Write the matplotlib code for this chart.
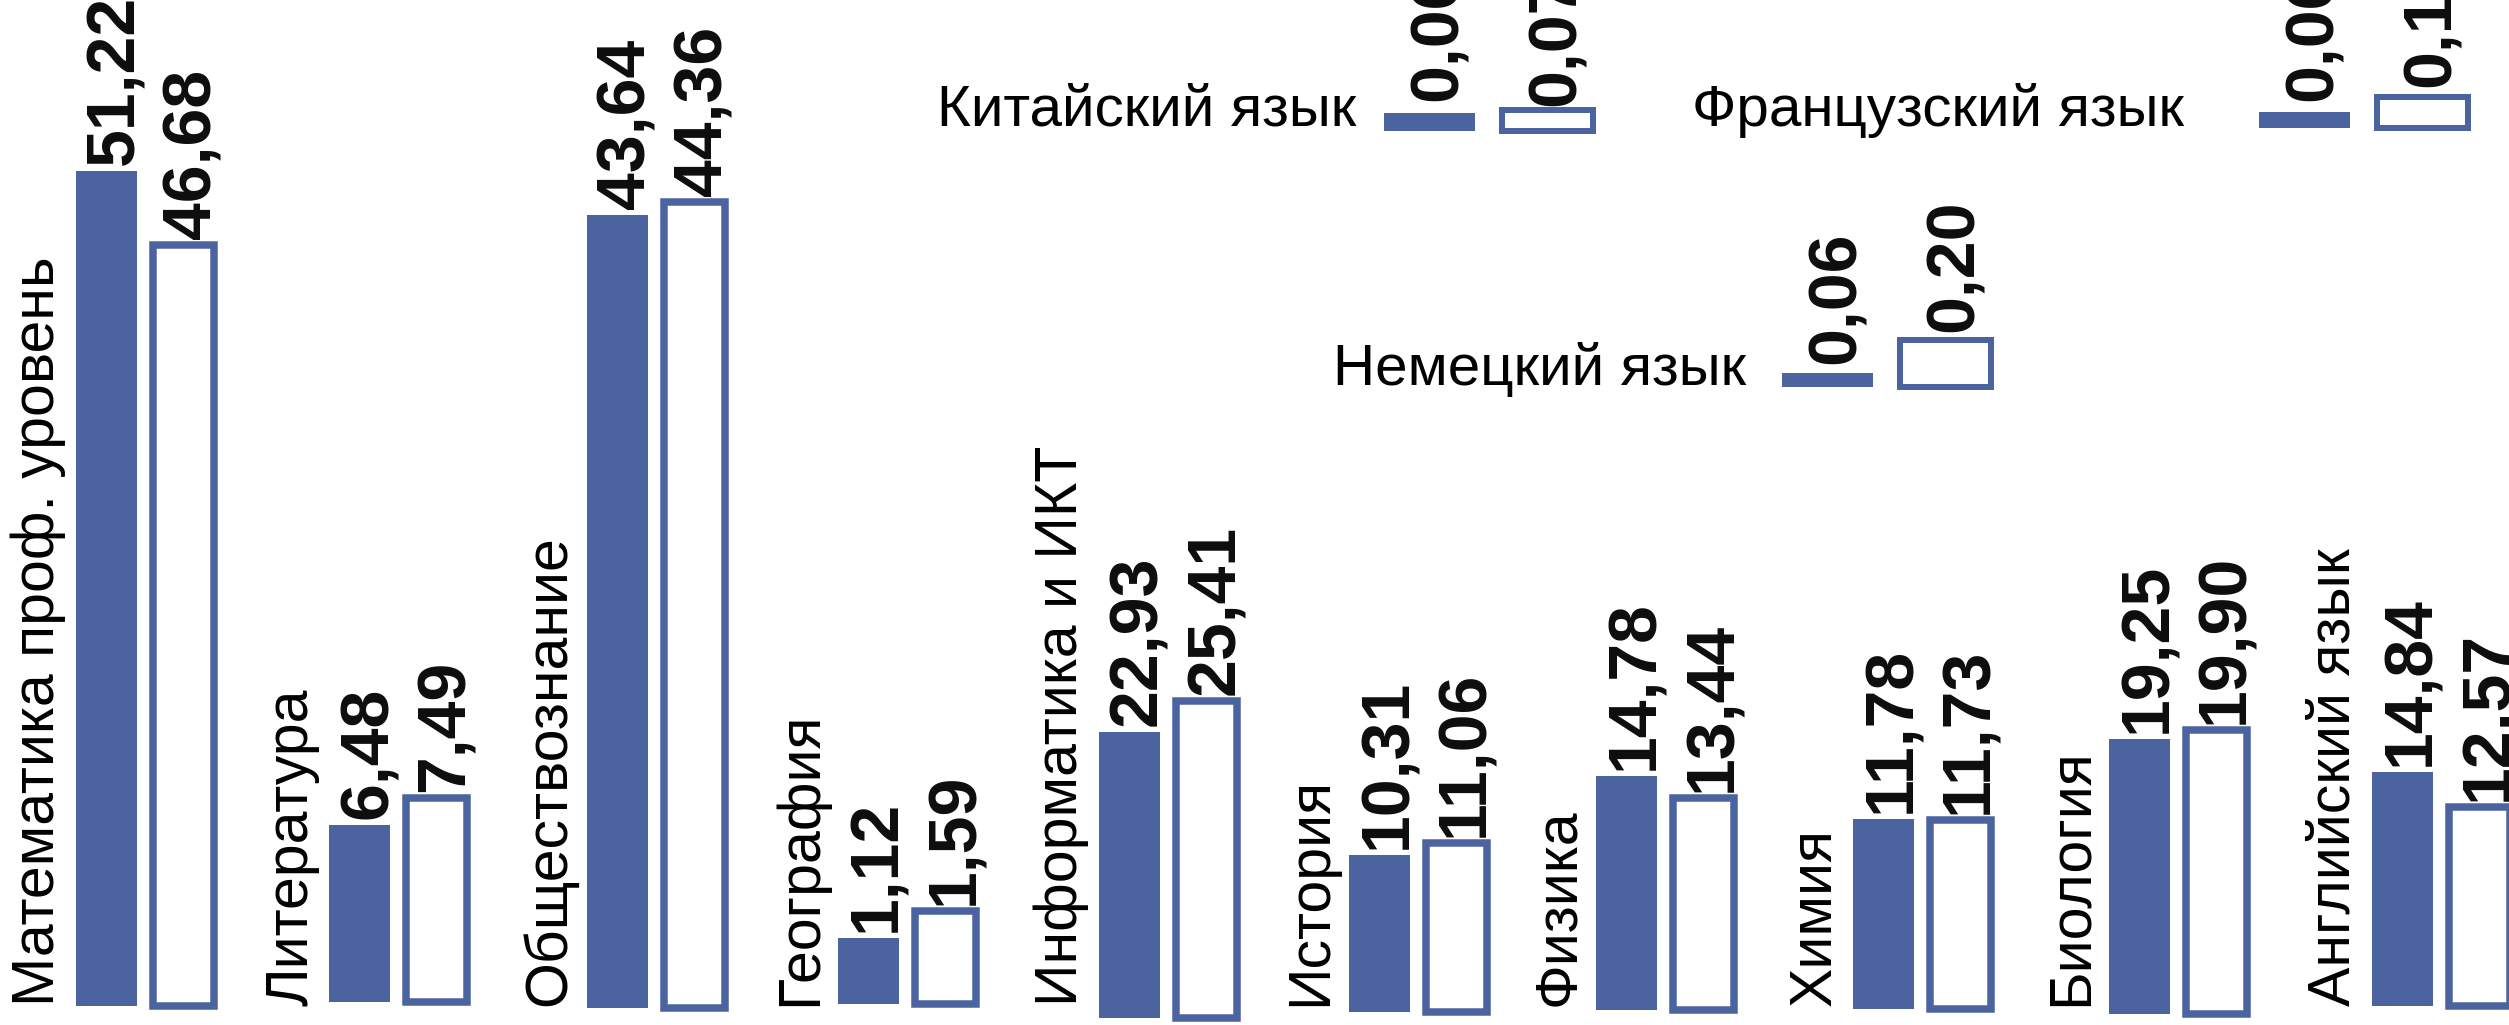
import matplotlib
matplotlib.use('Agg')
import matplotlib.pyplot as plt

# ---------------- data ----------------
subjects = ['Математика проф. уровень', 'Литература', 'Обществознание', 'География',
            'Информатика и ИКТ', 'История', 'Физика', 'Химия', 'Биология', 'Английский язык']
vals_a = [51.22, 6.48, 43.64, 1.12, 22.93, 10.31, 14.78, 11.78, 19.25, 14.84]
vals_b = [46.68, 7.49, 44.36, 1.59, 25.41, 11.06, 13.44, 11.73, 19.90, 12.57]

langs = ['Китайский язык', 'Французский язык', 'Немецкий язык']
lang_a = [0.06, 0.06, 0.06]
lang_b = [0.07, 0.12, 0.20]

# ---------------- layout (pixels) ----------------
W, H, DPI = 2509, 1025, 100
BLUE = '#4B639E'
TXT = '#0d0d0d'
FONT = 'Liberation Sans'

main_left = [76, 329, 587, 838, 1099, 1348.5, 1596, 1852.6, 2108.5, 2372]
main_base = [1005.7, 1002, 1008, 1004, 1018, 1011.5, 1010, 1008.5, 1014, 1006]
main_scale = [16.3, 27.3, 18.18, 58.5, 12.46, 15.2, 15.8, 16.1, 14.26, 15.8]
MAIN_BW, MAIN_STEP, MAIN_LW = 61, 77.4, 7.5

lang_left = [1384, 2259, 1782]
lang_base = [130.5, 127.7, 387]
lang_scale = [290, 255, 235]
lang_gap = [(12, 4), (11, 10), (9, 8)]
lang_text_pos = [(1356, 126), (2184, 126), (1746, 385)]
LANG_BW, LANG_STEP, LANG_LW = 91, 118, 6

fig = plt.figure(figsize=(W / DPI, H / DPI), dpi=DPI)
fig.patch.set_facecolor('white')


def fmt(v):
    return f'{v:.2f}'.replace('.', ',')


def mini_chart(left, base, scale, bw, step, lw, a, b, gaps=(6, 6)):
    center = left + bw / 2
    ax_left = center - 0.5 * step
    ax = fig.add_axes([ax_left / W, (H - base) / H, 2 * step / W, base / H])
    ax.set_xlim(-0.5, 1.5)
    ax.set_ylim(0, base / scale)
    ax.axis('off')
    w = bw / step
    ax.bar([0], [a], width=w, color=BLUE, linewidth=0, clip_on=False)
    ax.bar([1], [b], width=w, facecolor='white', edgecolor=BLUE,
           linewidth=lw * 72 / DPI, clip_on=False)
    for x, v, g in zip([0, 1], [a, b], gaps):
        ax.annotate(fmt(v), xy=(x, v), xytext=(27, g), textcoords='offset pixels',
                    rotation=90, rotation_mode='anchor', ha='left', va='baseline',
                    fontsize=49, fontweight='bold', family=FONT, color=TXT,
                    annotation_clip=False)
    return ax


for name, a, b, left, base, scale in zip(subjects, vals_a, vals_b,
                                          main_left, main_base, main_scale):
    ax = mini_chart(left, base, scale, MAIN_BW, MAIN_STEP, MAIN_LW, a, b)
    ax.annotate(name, xy=(0, H - 1006), xycoords=('data', 'figure pixels'),
                xytext=(-(MAIN_BW / 2 + 22), 0), textcoords='offset pixels',
                rotation=90, rotation_mode='anchor', ha='left', va='baseline',
                fontsize=42.5, family=FONT, color='black', annotation_clip=False)

for name, a, b, left, base, scale, gaps, (tx, ty) in zip(langs, lang_a, lang_b, lang_left,
                                                          lang_base, lang_scale, lang_gap,
                                                          lang_text_pos):
    mini_chart(left, base, scale, LANG_BW, LANG_STEP, LANG_LW, a, b, gaps)
    fig.text(tx / W, 1 - ty / H, name, ha='right', va='baseline',
             fontsize=42, family=FONT, color='black')

fig.savefig('out.png', dpi=DPI, facecolor='white')
